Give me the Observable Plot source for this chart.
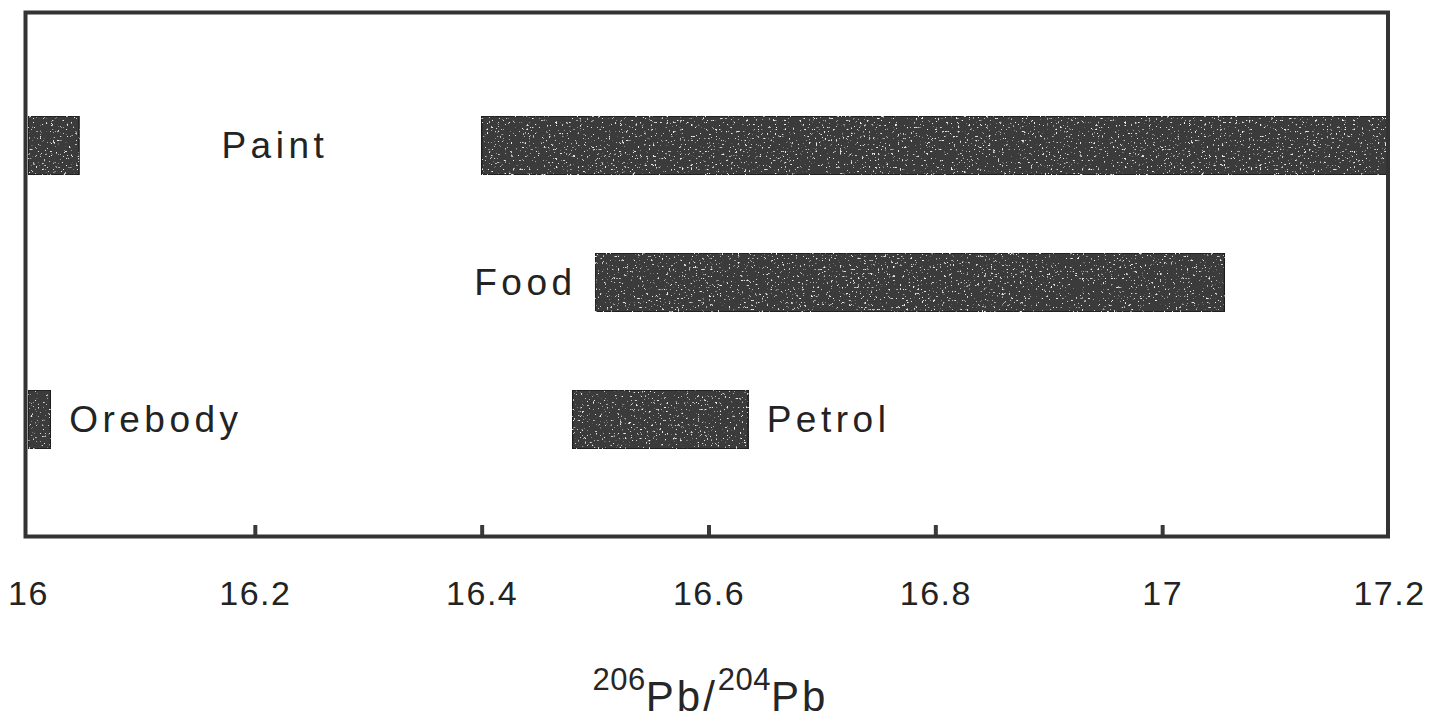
<!DOCTYPE html>
<html>
<head>
<meta charset="utf-8">
<script src="https://cdn.jsdelivr.net/npm/d3@7"></script>
<script src="https://cdn.jsdelivr.net/npm/@observablehq/plot@0.6"></script>
<style>
  html, body { margin: 0; padding: 0; background: #fff; }
  body { width: 1435px; height: 722px; font-family: "Liberation Sans", Arial, Helvetica, sans-serif; }
  #chart svg { display: block; }
  #title { width: 1421px; text-align: center; font-size: 42px; color: #262626; letter-spacing: 3px; line-height: 42px; height: 42px; margin-top: 51px; white-space: nowrap; }
  #title sup { font-size: 31px; line-height: 0; vertical-align: 0; position: relative; top: -21px; letter-spacing: 0.5px; }
</style>
</head>
<body>
<div id="chart"></div>
<div id="title"><sup>206</sup>Pb/<sup>204</sup>Pb</div>
<script>
// Data
const barSource = ["Paint", "Paint", "Food", "Petrol", "Orebody"];
const barRow    = ["Paint", "Paint", "Food", "Petrol", "Petrol"];
const barLow    = [16.0,   16.40,  16.50,  16.48,  16.0];
const barHigh   = [16.045, 17.20,  17.055, 16.635, 16.02];
const rows = ["Paint", "Food", "Petrol"];
const tickValues = [16, 16.2, 16.4, 16.6, 16.8, 17, 17.2];
const tickLabels = ["16", "16.2", "16.4", "16.6", "16.8", "17", "17.2"];

const bars = barSource.map((s, i) => ({source: s, row: barRow[i], lo: barLow[i], hi: barHigh[i]}));

// Label anchors derived from the bars
const paintBars = bars.filter(d => d.source === "Paint");
const labelsMiddle = [{text: "Paint", row: "Paint", x: (paintBars[0].hi + paintBars[1].lo) / 2}];
const labelsEnd = [{text: "Food", row: "Food", x: bars.find(d => d.source === "Food").lo}];
const labelsStart = [
  {text: "Orebody", row: "Petrol", x: bars.find(d => d.source === "Orebody").hi},
  {text: "Petrol", row: "Petrol", x: bars.find(d => d.source === "Petrol").hi}
];

const ink = "#232323";
const barFill = "#3a3a3a";
const fontFamily = "'Liberation Sans', Arial, Helvetica, sans-serif";
const labelStyle = {fontSize: 37, fill: ink, fontFamily};

const chart = Plot.plot({
  width: 1435,
  height: 625,
  marginLeft: 28,
  marginRight: 46,
  marginTop: 12,
  marginBottom: 89,
  style: {background: "#fff", fontFamily},
  x: {domain: [16, 17.2]},
  y: {domain: rows, range: [37, 528], padding: 0.571, axis: null},
  marks: [
    Plot.barX(bars, {x1: "lo", x2: "hi", y: "row", fill: barFill, stroke: "#1e1e1e", strokeWidth: 1.5}),
    Plot.text(labelsMiddle, {x: "x", y: "row", text: "text", textAnchor: "middle", dx: -6, ...labelStyle}),
    Plot.text(labelsEnd, {x: "x", y: "row", text: "text", textAnchor: "end", dx: -19, ...labelStyle}),
    Plot.text(labelsStart, {x: "x", y: "row", text: "text", textAnchor: "start", dx: 18, ...labelStyle}),
    Plot.axisX(tickValues.slice(1, -1), {anchor: "bottom", tickSize: -11, tickFormat: () => "", stroke: "#3a3a3a", strokeWidth: 4, label: null}),
    Plot.axisX(tickValues, {anchor: "bottom", tickSize: 0, tickPadding: 44, tickFormat: (d) => tickLabels[tickValues.indexOf(d)], fontSize: 34, fill: ink, label: null}),
    Plot.frame({stroke: "#333", strokeWidth: 4, insetLeft: -3, insetRight: 1.5})
  ]
});

// Speckled texture for the bars (style only)
const svg = d3.select(chart);
const defs = svg.insert("defs", ":first-child");
const f = defs.append("filter").attr("id", "speckle").attr("x", 0).attr("y", 0).attr("width", 1).attr("height", 1)
  .attr("filterUnits", "objectBoundingBox");
f.append("feTurbulence").attr("type", "fractalNoise").attr("baseFrequency", 0.45).attr("numOctaves", 2).attr("seed", 11).attr("result", "noise");
f.append("feColorMatrix").attr("in", "noise").attr("type", "matrix")
  .attr("values", "0 0 0 0 0.85  0 0 0 0 0.85  0 0 0 0 0.85  10 0 0 0 -6.7").attr("result", "specks");
f.append("feComposite").attr("in", "specks").attr("in2", "SourceGraphic").attr("operator", "in").attr("result", "clipped");
const m = f.append("feMerge");
m.append("feMergeNode").attr("in", "SourceGraphic");
m.append("feMergeNode").attr("in", "clipped");
svg.selectAll("rect").filter(function () {
  const g = this.parentNode;
  return g && g.getAttribute && g.getAttribute("fill") === barFill;
}).attr("filter", "url(#speckle)");

// Wider letter spacing as in the reference
const srcNames = new Set(["Paint", "Food", "Orebody", "Petrol"]);
const tickSet = new Set(tickLabels);
svg.selectAll("text").each(function () {
  const t = this.textContent;
  if (srcNames.has(t)) this.style.letterSpacing = "4.5px";
  else if (tickSet.has(t)) this.style.letterSpacing = "1.5px";
});

document.getElementById("chart").appendChild(chart);
</script>
</body>
</html>
